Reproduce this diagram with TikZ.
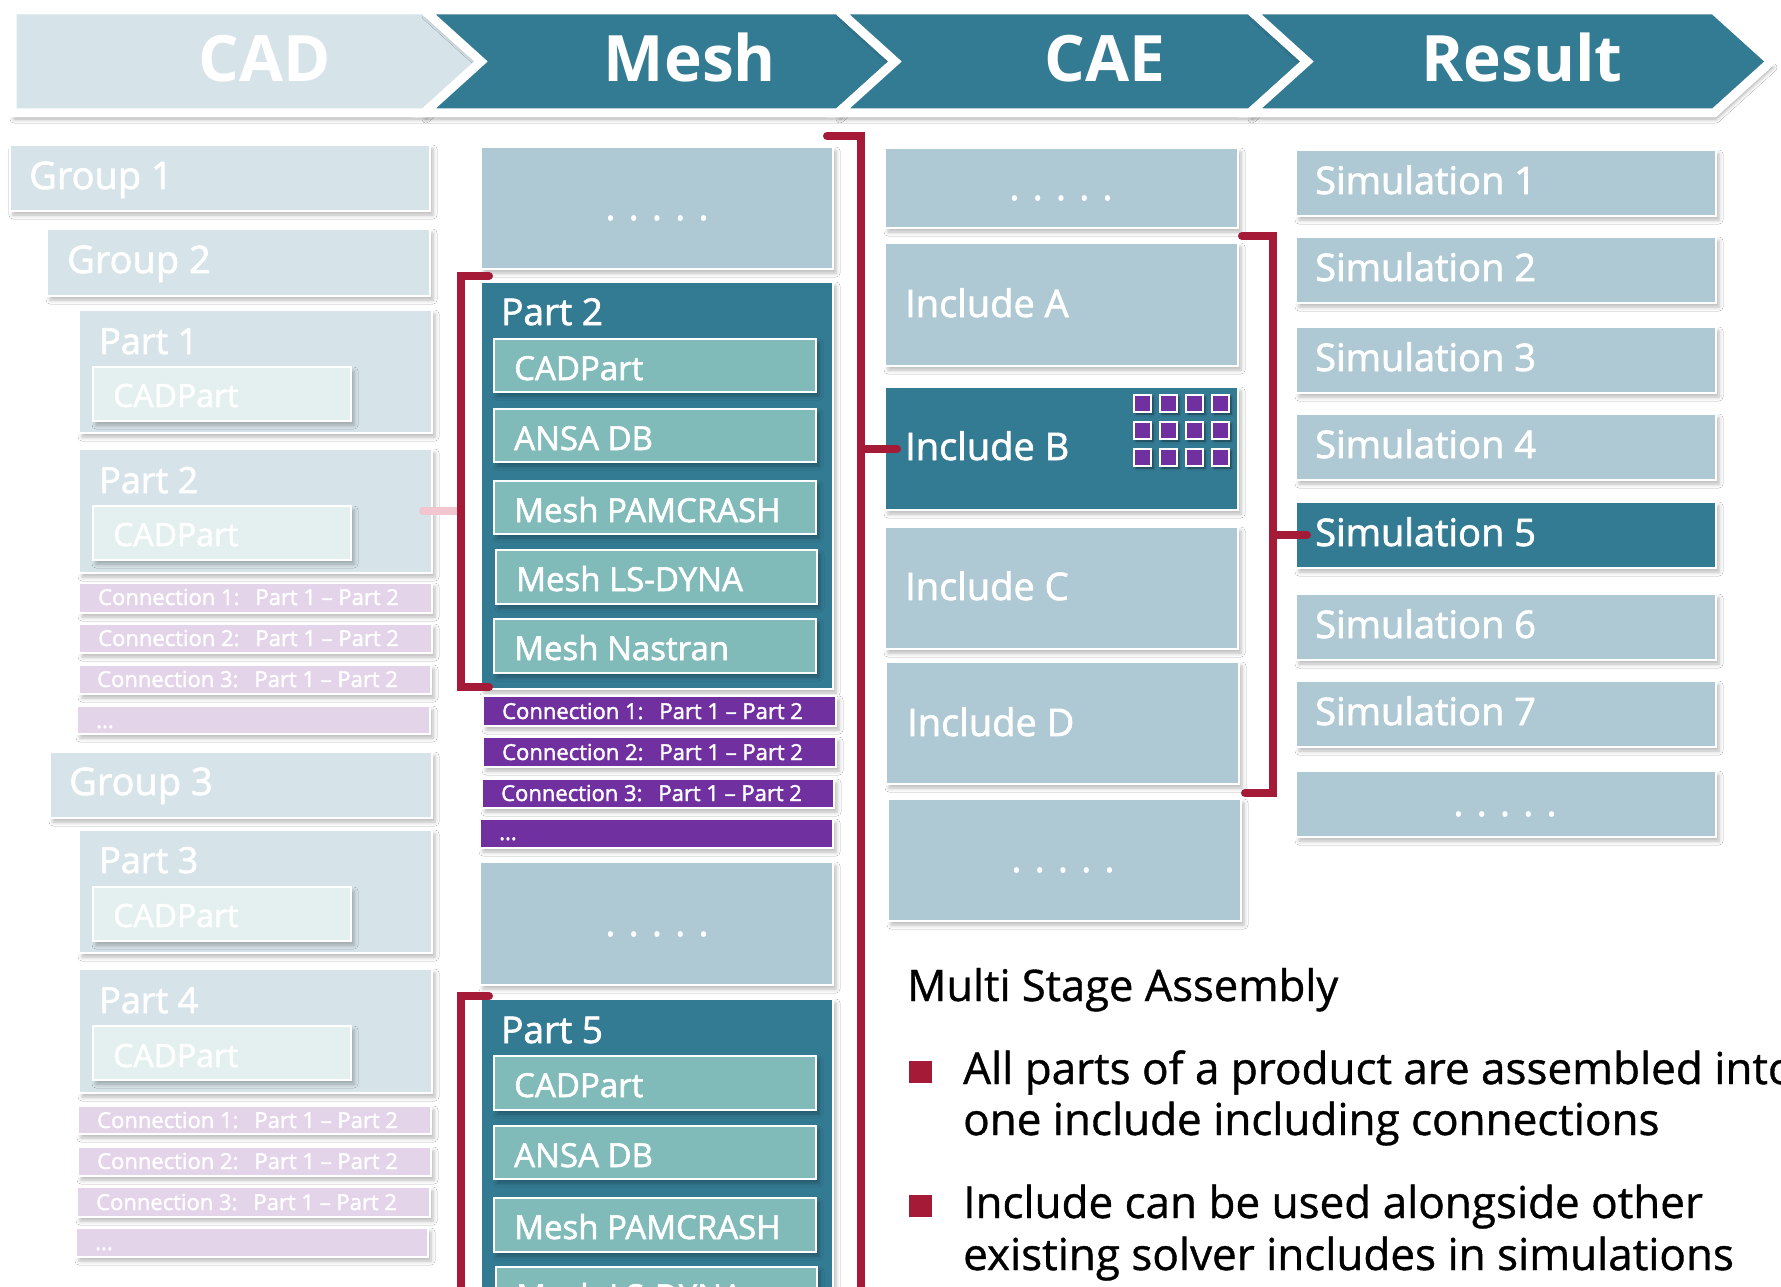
\documentclass[tikz,border=0pt]{standalone}
\usepackage{fontspec}
\setmainfont{Open Sans}
\newfontfamily\semi{Open Sans}[FakeBold=1.8]
\newfontfamily\semil{Open Sans}[FakeBold=0.9]
\usetikzlibrary{shadows.blur}

\definecolor{cadfill}{HTML}{D6E3E8}
\definecolor{cadinner}{HTML}{E4EFF0}
\definecolor{cadconn}{HTML}{E3D4EA}
\definecolor{midblue}{HTML}{AEC9D3}
\definecolor{deepteal}{HTML}{337A93}
\definecolor{subteal}{HTML}{80BBB9}
\definecolor{connpurple}{HTML}{7030A0}
\definecolor{crimson}{HTML}{A51B37}
\definecolor{crimsonfade}{HTML}{F1C6CE}

% rectangle node from its top-left (x1,y1) to bottom-right (x2,y2)
\newcommand\bx[6]{\node[#1,anchor=north west,minimum width={#5pt-#3pt},minimum height={#6pt-#4pt}] (#2) at (#3,#4) {};}

\tikzset{
  sh/.style={blur shadow={shadow xshift=3pt,shadow yshift=-4pt,shadow blur radius=4pt,shadow opacity=28}},
  box/.style={draw=white,line width=1.6pt,inner sep=0pt,outer sep=0pt,sh},
  fbox/.style={box,fill=cadfill},
  finner/.style={box,fill=cadinner},
  fconn/.style={box,fill=cadconn},
  mbox/.style={box,fill=midblue},
  dbox/.style={box,fill=deepteal},
  tbox/.style={box,fill=subteal},
  pbox/.style={box,fill=connpurple},
  chev/.style={draw=white,line width=9pt,line join=miter,
    blur shadow={shadow xshift=2pt,shadow yshift=-6pt,shadow blur radius=4pt,shadow opacity=35}},
  lab/.style={anchor=base west,inner sep=0pt,text=white},
  hdr/.style={anchor=base,inner sep=0pt,text=white,font=\fontsize{64}{70}\selectfont\bfseries},
  fgrp/.style={lab,font=\semi\fontsize{38}{44}\selectfont},
  fpart/.style={lab,font=\semi\fontsize{36}{42}\selectfont},
  fcad/.style={lab,font=\semi\fontsize{32}{38}\selectfont},
  fconnt/.style={lab,font=\semi\fontsize{22}{26}\selectfont},
  mpart/.style={lab,font=\semi\fontsize{37}{42}\selectfont},
  msub/.style={lab,font=\semi\fontsize{33}{38}\selectfont},
  big/.style={lab,font=\semi\fontsize{38}{44}\selectfont},
  dots/.style={anchor=base,inner sep=0pt,text=white,font=\semi\fontsize{38}{44}\selectfont},
  brk/.style={draw=crimson,line width=8pt,line cap=round,line join=miter},
  brkfade/.style={draw=crimsonfade,line width=8pt,line cap=round},
  sq/.style={draw=white,line width=1.4pt,fill=connpurple,minimum size=17pt,inner sep=0pt,
    blur shadow={shadow xshift=2pt,shadow yshift=-2pt,shadow blur radius=2pt,shadow opacity=50}},
  bul/.style={fill=crimson,inner sep=0pt,anchor=north west,minimum width=23pt,minimum height=22pt},
  ttl/.style={anchor=base west,inner sep=0pt,text=black,font=\semil\fontsize{43.5}{50}\selectfont},
  btxt/.style={anchor=base west,inner sep=0pt,text=black,font=\semil\fontsize{44}{51}\selectfont}
}
\newcommand\cgap{\hspace{16pt}}

\begin{document}
\begin{tikzpicture}[x=1pt,y=-1pt]
\useasboundingbox (0,0) rectangle (1781,1287);
\fill[white] (0,0) rectangle (1781,1287);
\clip (0,0) rectangle (1781,1287);

% ---------- process header ----------
\path[chev,fill=cadfill] (12,10) -- (424,10) -- (481,61.5) -- (424,113) -- (12,113) -- cycle;
\path[chev,fill=deepteal] (424,10) -- (838,10) -- (895,61.5) -- (838,113) -- (424,113) -- (481,61.5) -- cycle;
\path[chev,fill=deepteal] (838,10) -- (1250,10) -- (1307,61.5) -- (1250,113) -- (838,113) -- (895,61.5) -- cycle;
\path[chev,fill=deepteal] (1250,10) -- (1714,10) -- (1771,61.5) -- (1714,113) -- (1250,113) -- (1307,61.5) -- cycle;
\node[hdr] (hcad) at (265,82) {CAD};
\node[hdr] (hmesh) at (690,82) {Mesh};
\node[hdr] (hcae) at (1105,82) {CAE};
\node[hdr] (hres) at (1522,82) {Result};

% ---------- CAD column ----------
\bx{fbox}{g1}{10}{145}{430}{211}
\node[fgrp] (g1t) at (29,189) {Group 1};
\bx{fbox}{g2}{47}{229}{430}{296}
\node[fgrp] (g2t) at (67,273) {Group 2};
\bx{fbox}{p1}{79}{310}{432}{433}
\node[fpart] (p1t) at (99,354) {Part 1};
\bx{finner}{p1c}{93}{367}{351}{421}
\node[fcad] (p1ct) at (113,407) {CADPart};
\bx{fbox}{p2}{79}{449}{432}{573}
\node[fpart] (p2t) at (99,493) {Part 2};
\bx{finner}{p2c}{93}{506}{351}{560}
\node[fcad] (p2ct) at (113,546) {CADPart};
\bx{fconn}{ca1}{79}{583}{432}{613}
\node[fconnt] (ca1t) at (98,605) {Connection 1:\cgap Part 1 – Part 2};
\bx{fconn}{ca2}{79}{624}{432}{653}
\node[fconnt] (ca2t) at (98,646) {Connection 2:\cgap Part 1 – Part 2};
\bx{fconn}{ca3}{79}{665}{431}{694}
\node[fconnt] (ca3t) at (97,687) {Connection 3:\cgap Part 1 – Part 2};
\bx{fconn}{ca4}{77}{706}{430}{734}
\node[fconnt] (ca4t) at (96,728) {...};
\bx{fbox}{g3}{50}{752}{432}{818}
\node[fgrp] (g3t) at (69,795) {Group 3};
\bx{fbox}{p3}{79}{830}{432}{953}
\node[fpart] (p3t) at (99,873) {Part 3};
\bx{finner}{p3c}{93}{887}{351}{941}
\node[fcad] (p3ct) at (113,927) {CADPart};
\bx{fbox}{p4}{79}{969}{432}{1093}
\node[fpart] (p4t) at (99,1013) {Part 4};
\bx{finner}{p4c}{93}{1026}{351}{1080}
\node[fcad] (p4ct) at (113,1067) {CADPart};
\bx{fconn}{cb1}{78}{1106}{431}{1134}
\node[fconnt] (cb1t) at (97,1128) {Connection 1:\cgap Part 1 – Part 2};
\bx{fconn}{cb2}{78}{1147}{431}{1176}
\node[fconnt] (cb2t) at (97,1169) {Connection 2:\cgap Part 1 – Part 2};
\bx{fconn}{cb3}{77}{1187}{430}{1217}
\node[fconnt] (cb3t) at (96,1210) {Connection 3:\cgap Part 1 – Part 2};
\bx{fconn}{cb4}{76}{1228}{428}{1257}
\node[fconnt] (cb4t) at (95,1250) {...};

% ---------- Mesh column ----------
\bx{mbox}{md1}{481}{147}{833}{269}
\node[dots] (md1t) at (657,220) {. . . . .};
\bx{dbox}{mp2}{481}{282}{833}{689}
\node[mpart] (mp2t) at (501,325) {Part 2};
\bx{tbox}{ms1}{494}{339}{816}{392}
\node[msub] (ms1t) at (514,380) {CADPart};
\bx{tbox}{ms2}{494}{409}{816}{462}
\node[msub] (ms2t) at (514,450) {ANSA DB};
\bx{tbox}{ms3}{494}{481}{816}{534}
\node[msub] (ms3t) at (514,522) {Mesh PAMCRASH};
\bx{tbox}{ms4}{496}{550}{817}{604}
\node[msub] (ms4t) at (516,591) {Mesh LS-DYNA};
\bx{tbox}{ms5}{494}{619}{816}{673}
\node[msub] (ms5t) at (514,660) {Mesh Nastran};
\bx{pbox}{mc1}{483}{696}{836}{726}
\node[fconnt] (mc1t) at (502,719) {Connection 1:\cgap Part 1 – Part 2};
\bx{pbox}{mc2}{483}{737}{836}{767}
\node[fconnt] (mc2t) at (502,760) {Connection 2:\cgap Part 1 – Part 2};
\bx{pbox}{mc3}{482}{779}{834}{808}
\node[fconnt] (mc3t) at (501,801) {Connection 3:\cgap Part 1 – Part 2};
\bx{pbox}{mc4}{480}{819}{833}{848}
\node[fconnt] (mc4t) at (499,840) {...};
\bx{mbox}{md2}{480}{862}{833}{985}
\node[dots] (md2t) at (657,936) {. . . . .};
\bx{dbox}{mp5}{481}{999}{833}{1320}
\node[mpart] (mp5t) at (501,1043) {Part 5};
\bx{tbox}{mt1}{494}{1056}{816}{1110}
\node[msub] (mt1t) at (514,1097) {CADPart};
\bx{tbox}{mt2}{494}{1126}{816}{1179}
\node[msub] (mt2t) at (514,1167) {ANSA DB};
\bx{tbox}{mt3}{494}{1198}{816}{1252}
\node[msub] (mt3t) at (514,1239) {Mesh PAMCRASH};
\bx{tbox}{mt4}{496}{1267}{817}{1320}
\node[msub] (mt4t) at (516,1308) {Mesh LS-DYNA};

% ---------- CAE column ----------
\bx{mbox}{cd1}{885}{148}{1238}{228}
\node[dots] (cd1t) at (1061,200) {. . . . .};
\bx{mbox}{incA}{885}{243}{1238}{366}
\node[big] (incAt) at (905,317) {Include A};
\bx{dbox}{incB}{885}{387}{1238}{510}
\node[big] (incBt) at (905,460) {Include B};
\foreach \c in {0,...,3}
  \foreach \r in {0,...,2}
    \node[sq] (sq\c\r) at (1142.5+26*\c,403.5+27*\r) {};
\bx{mbox}{incC}{885}{527}{1238}{649}
\node[big] (incCt) at (905,600) {Include C};
\bx{mbox}{incD}{886}{662}{1239}{784}
\node[big] (incDt) at (907,736) {Include D};
\bx{mbox}{cd2}{888}{799}{1241}{921}
\node[dots] (cd2t) at (1063,872) {. . . . .};

% ---------- Result column ----------
\foreach \i/\t in {1/150,2/237,3/327,4/414,6/594,7/681}{
  \bx{mbox}{sim\i}{1296}{\t}{1716}{\t+66}
  \node[big] (sim\i t) at (1315,\t+44) {Simulation \i};
}
\bx{dbox}{sim5}{1296}{502}{1716}{568}
\node[big] (sim5t) at (1315,546) {Simulation 5};
\bx{mbox}{simd}{1296}{771}{1716}{837}
\node[dots] (simdt) at (1505,816) {. . . . .};

% ---------- assembly brackets ----------
\coordinate (bp2) at (461,511);
\draw[brkfade] ([xshift=-9pt]p2.east) -- (bp2);
\draw[brk] (489,276) -- (461,276) -- (461,687) -- (489,687);
\draw[brk] (489,996) -- (461,996) -- (461,1320);
\coordinate (bincB) at (861,448.5);
\draw[brk] (827,136) -- (861,136) -- (861,1320);
\draw[brk] (bincB) -- ([xshift=12pt]incB.west);
\coordinate (bsim5) at (1273,535);
\draw[brk] (1242,236) -- (1273,236) -- (1273,793) -- (1245,793);
\draw[brk] (bsim5) -- ([xshift=11pt]sim5.west);

% ---------- notes ----------
\node[ttl] (title) at (907,1001) {Multi Stage Assembly};
\node[bul] (bul1) at (909,1061) {};
\node[btxt] (b1a) at (963,1084) {All parts of a product are assembled into};
\node[btxt] (b1b) at (963,1135) {one include including connections};
\node[bul] (bul2) at (909,1195) {};
\node[btxt] (b2a) at (963,1218) {Include can be used alongside other};
\node[btxt] (b2b) at (963,1270) {existing solver includes in simulations};
\end{tikzpicture}
\end{document}
